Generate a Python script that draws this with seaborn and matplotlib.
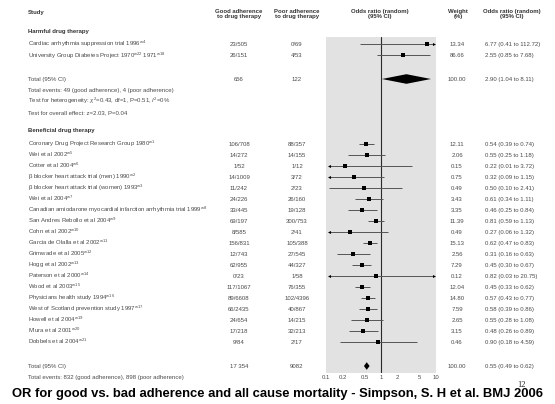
import numpy as np
import pandas as pd
import matplotlib
matplotlib.use("Agg")
import matplotlib.pyplot as plt
import seaborn as sns

sns.set_theme(style="white")
plt.rcParams['font.family'] = ['Liberation Sans', 'DejaVu Sans']
plt.rcParams['mathtext.fontset'] = 'custom'
plt.rcParams['mathtext.rm'] = 'Liberation Sans'
plt.rcParams['mathtext.it'] = 'Liberation Sans:italic'
plt.rcParams['mathtext.bf'] = 'Liberation Sans:bold'

# ---------------- data ----------------
harm_studies = ["Cardiac arrhythmia suppression trial 1996$^{\\mathrm{w4}}$",
                "University Group Diabetes Project 1970$^{\\mathrm{w22}}$ 1971$^{\\mathrm{w18}}$"]
harm_good = ["23/505", "26/151"]
harm_poor = ["0/69", "4/53"]
harm_weight = [13.34, 86.66]
harm_or = [6.77, 2.55]
harm_lo = [0.41, 0.85]
harm_hi = [112.72, 7.68]
harm_total = ["656", "122", 100.00, 2.90, 1.04, 8.11]
harm_notes = ["Total events: 49 (good adherence), 4 (poor adherence)",
              "Test for heterogeneity: $\\chi^2$=0.43, df=1, P=0.51, $I^2$=0%",
              "Test for overall effect: z=2.03, P=0.04"]

ben_studies = ["Coronary Drug Project Research Group 1980$^{\\mathrm{w1}}$",
               "Wei et al 2002$^{\\mathrm{w5}}$",
               "Cotter et al 2004$^{\\mathrm{w6}}$",
               "β blocker heart attack trial (men) 1990$^{\\mathrm{w2}}$",
               "β blocker heart attack trial (women) 1993$^{\\mathrm{w3}}$",
               "Wei et al 2004$^{\\mathrm{w7}}$",
               "Canadian amiodarone myocardial infarction arrhythmia trial 1999$^{\\mathrm{w8}}$",
               "San Andres Rebollo et al 2004$^{\\mathrm{w9}}$",
               "Cohn et al 2002$^{\\mathrm{w10}}$",
               "Garcia de Olalla et al 2002$^{\\mathrm{w11}}$",
               "Grimwade et al 2005$^{\\mathrm{w12}}$",
               "Hogg et al 2002$^{\\mathrm{w13}}$",
               "Paterson et al 2000$^{\\mathrm{w14}}$",
               "Wood et al 2003$^{\\mathrm{w15}}$",
               "Physicians health study 1994$^{\\mathrm{w16}}$",
               "West of Scotland prevention study 1997$^{\\mathrm{w17}}$",
               "Howell et al 2004$^{\\mathrm{w19}}$",
               "Miura et al 2001$^{\\mathrm{w20}}$",
               "Dobbels et al 2004$^{\\mathrm{w21}}$"]
ben_good = ["106/708", "14/272", "1/52", "14/1009", "11/242", "24/226", "33/445",
            "69/197", "8/585", "156/831", "12/743", "62/955", "0/23", "117/1067",
            "89/6608", "66/2435", "24/654", "17/218", "9/84"]
ben_poor = ["88/357", "14/155", "1/12", "3/72", "2/23", "26/160", "19/128",
            "300/753", "2/41", "105/388", "27/545", "44/327", "1/58", "76/355",
            "102/4396", "40/867", "14/215", "32/213", "2/17"]
ben_weight = [12.11, 2.06, 0.15, 0.75, 0.49, 3.43, 3.35, 11.39, 0.49, 15.13,
              2.56, 7.29, 0.12, 12.04, 14.80, 7.59, 2.65, 3.15, 0.46]
ben_or = [0.54, 0.55, 0.22, 0.32, 0.50, 0.61, 0.46, 0.81, 0.27, 0.62,
          0.31, 0.45, 0.82, 0.45, 0.57, 0.58, 0.55, 0.48, 0.90]
ben_lo = [0.39, 0.25, 0.01, 0.09, 0.10, 0.34, 0.25, 0.59, 0.06, 0.47,
          0.16, 0.30, 0.03, 0.33, 0.43, 0.39, 0.28, 0.26, 0.18]
ben_hi = [0.74, 1.18, 3.72, 1.15, 2.41, 1.11, 0.84, 1.13, 1.32, 0.83,
          0.63, 0.67, 20.75, 0.62, 0.77, 0.86, 1.08, 0.89, 4.59]
ben_total = ["17 354", "9082", 100.00, 0.55, 0.49, 0.62]
ben_notes = ["Total events: 832 (good adherence), 898 (poor adherence)"]

tick_vals = [0.1, 0.2, 0.5, 1, 2, 5, 10]
tick_labels = ["0.1", "0.2", "0.5", "1", "2", "5", "10"]

title = "OR for good vs. bad adherence and all cause mortality - Simpson, S. H et al. BMJ 2006"

# ---------------- layout (pixel units) ----------------
W, H = 555, 404
fig = plt.figure(figsize=(W / 100, H / 100), dpi=100)

ROW = 11.0
harm_y = [44 + i * 11.4 for i in range(len(harm_studies))]
harm_tot_y = 79
harm_note_y = [90 + i * 11.2 for i in range(len(harm_notes))]
ben_head_y = 130
ben_y = [144 + i * ROW for i in range(len(ben_studies))]
ben_tot_y = 366
ben_note_y = [377]

TXT = '#4a4a4a'
HDR = '#333333'
FS = 4.3
BASE = 2.0  # baseline offset from visual centre (px)


def ftext(x, y, s, **kw):
    kw.setdefault('fontsize', FS)
    kw.setdefault('color', TXT)
    kw.setdefault('va', 'baseline')
    if kw['va'] == 'baseline':
        y = y + BASE
    fig.text(x / W, 1 - y / H, s, **kw)


# column headers
hdr = dict(fontweight='bold', color=HDR, ha='center', va='center', linespacing=0.95)
ftext(28, 12, "Study", fontweight='bold', color=HDR)
ftext(239, 14, "Good adherence\nto drug therapy", **hdr)
ftext(297, 14, "Poor adherence\nto drug therapy", **hdr)
ftext(380, 14, "Odds ratio (random)\n(95% CI)", **hdr)
ftext(458, 14, "Weight\n(%)", **hdr)
ftext(512, 14, "Odds ratio (random)\n(95% CI)", **hdr)

ftext(28, 31, "Harmful drug therapy", fontweight='bold', color=HDR)
ftext(28, ben_head_y, "Beneficial drug therapy", fontweight='bold', color=HDR)


def rows_text(studies, good, poor, weight, orv, lo, hi, ys):
    for s, g, p, w, o, l, h, y in zip(studies, good, poor, weight, orv, lo, hi, ys):
        ftext(28, y, s)
        ftext(239, y, g, ha='center')
        ftext(297, y, p, ha='center')
        ftext(457, y, f"{w:.2f}", ha='center')
        ftext(485, y, f"{o:.2f} ({l:.2f} to {h:.2f})", ha='left')


rows_text(harm_studies, harm_good, harm_poor, harm_weight, harm_or, harm_lo, harm_hi, harm_y)
rows_text(ben_studies, ben_good, ben_poor, ben_weight, ben_or, ben_lo, ben_hi, ben_y)

for tot, y in [(harm_total, harm_tot_y), (ben_total, ben_tot_y)]:
    ftext(28, y, "Total (95% CI)")
    ftext(239, y, tot[0], ha='center')
    ftext(297, y, tot[1], ha='center')
    ftext(457, y, f"{tot[2]:.2f}", ha='center')
    ftext(485, y, f"{tot[3]:.2f} ({tot[4]:.2f} to {tot[5]:.2f})", ha='left')

for s, y in zip(harm_notes, harm_note_y):
    ftext(28, y, s)
for s, y in zip(ben_notes, ben_note_y):
    ftext(28, y, s)

# ---------------- forest panel ----------------
ax = fig.add_axes([326 / W, 1 - 373 / H, 110 / W, 336 / H])
ax.set_facecolor('#e2e2e2')
ax.set_xscale('log')
ax.set_xlim(0.1, 10)
ax.set_ylim(373, 37)
for sp in ax.spines.values():
    sp.set_visible(False)
ax.set_yticks([])
ax.xaxis.set_minor_locator(matplotlib.ticker.NullLocator())
ax.set_xticks(tick_vals)
ax.set_xticklabels(tick_labels)
ax.tick_params(axis='x', length=0, pad=1.5, labelsize=FS, colors=TXT)

ax.axvline(1, color='#2a2a2a', lw=0.8, zorder=2)

df = pd.DataFrame({
    "or": harm_or + ben_or,
    "lo": harm_lo + ben_lo,
    "hi": harm_hi + ben_hi,
    "y": harm_y + ben_y,
})

LMIN, LMAX = 0.112, 9.3
for _, r in df.iterrows():
    lo = max(r.lo, LMIN)
    hi = min(r.hi, LMAX)
    ax.plot([lo, hi], [r.y, r.y], color='#555555', lw=0.7, zorder=3, solid_capstyle='butt')
    if r.lo < 0.1:
        ax.plot([LMIN], [r.y], marker='<', color='black', ms=2.2, mew=0, zorder=4)
    if r.hi > 10:
        ax.plot([LMAX], [r.y], marker='>', color='black', ms=2.2, mew=0, zorder=4)

sns.scatterplot(data=df, x="or", y="y", marker='s', color='black', s=10,
                linewidth=0, legend=False, ax=ax, zorder=5)
ax.set_xlabel("")
ax.set_ylabel("")

for tot, y, hh in [(harm_total, harm_tot_y, 4.8), (ben_total, ben_tot_y, 3.8)]:
    o, l, h = tot[3], tot[4], tot[5]
    ax.fill([l, o, h, o], [y, y - hh, y, y + hh], color='black', lw=0, zorder=5)

# ---------------- title ----------------
fig.text(277 / W, 1 - 394 / H, title, fontsize=9.4, fontweight='bold',
         color='black', ha='center', va='center')
fig.text(521 / W, 1 - 385 / H, "12", fontsize=6, family='Liberation Serif',
         color='#222222', ha='center', va='center')

fig.savefig("out.png", dpi=100, facecolor='white')
